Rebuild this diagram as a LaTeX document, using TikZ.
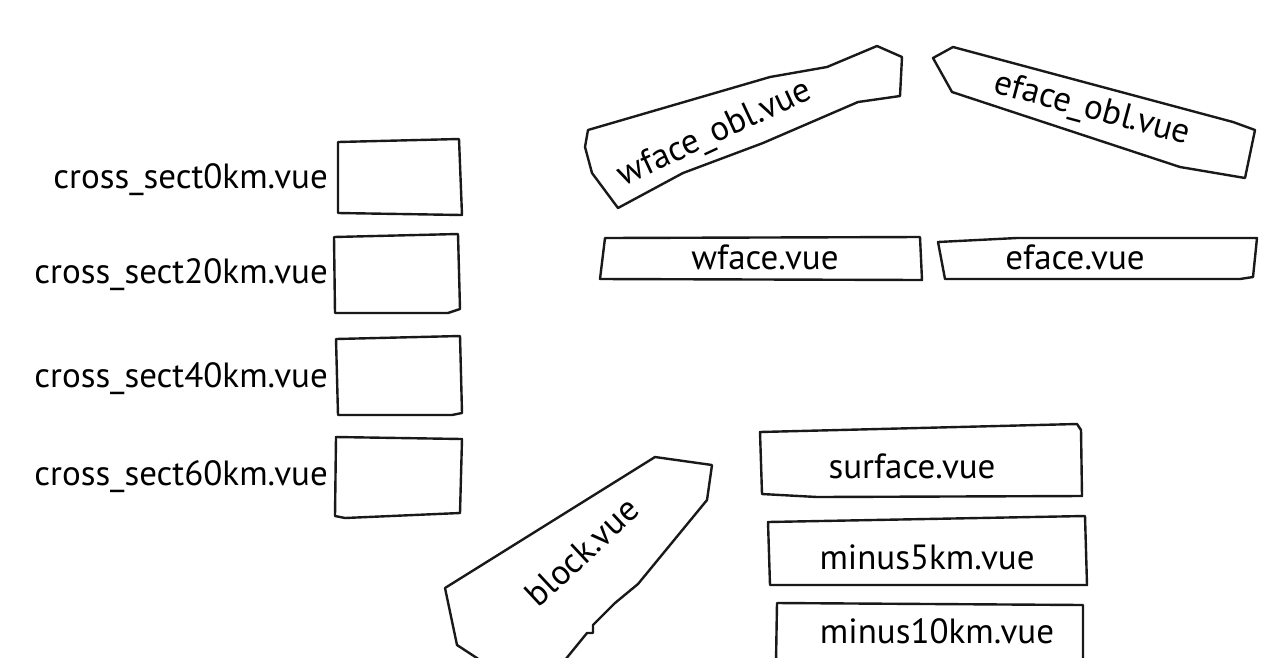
\documentclass[tikz,border=0pt]{standalone}
\usepackage{fontspec}
\setmainfont{PT Sans}
\begin{document}
\begin{tikzpicture}[x=1pt,y=-1pt,
  outline/.style={draw=black!90,line width=2.4pt,line join=round,line cap=round},
  lbl/.style={inner sep=0pt,font=\fontsize{35}{40}\selectfont}]
\useasboundingbox (0,0) rectangle (1284,657);
% left boxes
\draw[outline] (338,142) -- (459,139) -- (462,215) -- (338,213) -- cycle;
\draw[outline] (334,237) -- (458,234) -- (460,309) -- (448,313) -- (335,313) -- cycle;
\draw[outline] (336,339) -- (460,336) -- (462,413) -- (452,415) -- (338,415) -- cycle;
\draw[outline] (336,437) -- (462,439) -- (460,513) -- (345,518) -- (335,516) -- cycle;
\node[lbl,anchor=base east] (cs0) at (328,188) {cross\_sect0km.vue};
\node[lbl,anchor=base east] (cs20) at (328,283) {cross\_sect20km.vue};
\node[lbl,anchor=base east] (cs40) at (328,387) {cross\_sect40km.vue};
\node[lbl,anchor=base east] (cs60) at (328,485) {cross\_sect60km.vue};
% wface_obl
\draw[outline] (588,130) -- (770,77) -- (827,67) -- (877,46) -- (902,57) -- (900,96) -- (858,102) -- (763,143) -- (683,173) -- (618,208) -- (592,173) -- (585,147) -- cycle;
\node[lbl,rotate=25] (wobl) at (715,134) {wface\_obl.vue};
% eface_obl
\draw[outline] (933,58) -- (953,47) -- (1233,122) -- (1255,130) -- (1245,178) -- (1180,167) -- (952,92) -- cycle;
\node[lbl,rotate=-15] (eobl) at (1092,110) {eface\_obl.vue};
% wface / eface
\draw[outline] (605,238) -- (920,237) -- (922,280) -- (600,279) -- cycle;
\node[lbl,anchor=base] (wf) at (765,269) {wface.vue};
\draw[outline] (938,242) -- (1017,238) -- (1257,238) -- (1253,277) -- (1240,279) -- (945,279) -- cycle;
\node[lbl,anchor=base] (ef) at (1075,269) {eface.vue};
% block
\draw[outline] (483,662) -- (457,645) -- (445,588) -- (655,457) -- (712,465) -- (707,500) -- (638,584) -- (615,603) -- (593,625) -- (593,633) -- (587,633) -- (565,660);
\node[lbl,rotate=43] (blk) at (582,552) {block.vue};
% surface etc
\draw[outline] (760,432) -- (1077,424) -- (1081,430) -- (1082,496) -- (817,497) -- (762,494) -- cycle;
\node[lbl,anchor=base] (sf) at (912,478) {surface.vue};
\draw[outline] (768,522) -- (1085,516) -- (1087,585) -- (770,585) -- cycle;
\node[lbl,anchor=base] (m5) at (927,569) {minus5km.vue};
\draw[outline] (776,662) -- (777,603) -- (1083,605) -- (1083,662);
\node[lbl,anchor=base] (m10) at (937,643) {minus10km.vue};
\end{tikzpicture}
\end{document}
